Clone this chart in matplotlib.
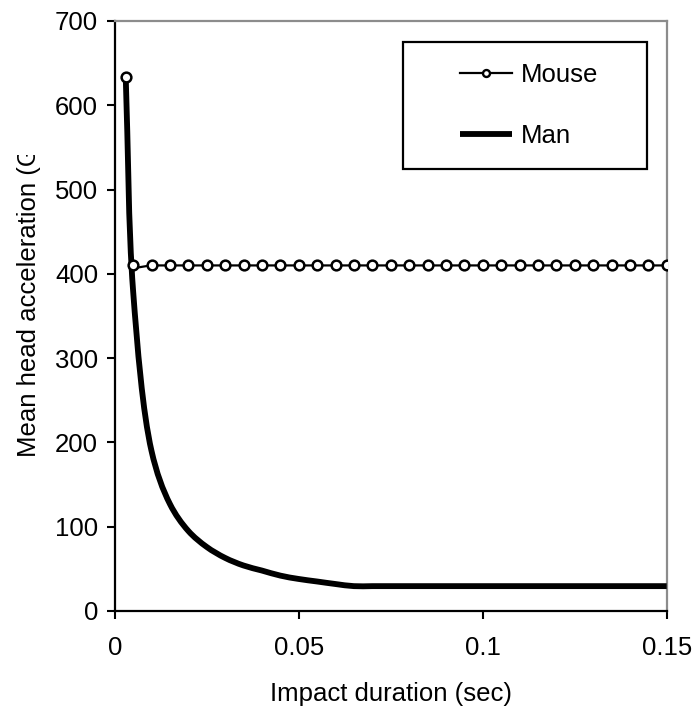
import matplotlib
matplotlib.use("Agg")
import numpy as np
import matplotlib.pyplot as plt
from matplotlib.transforms import Bbox, TransformedBbox
from matplotlib.patches import Rectangle, PathPatch
from matplotlib.path import Path
from matplotlib.lines import Line2D

plt.rcParams['font.family'] = ['Liberation Sans', 'DejaVu Sans']

# Data
mouse_t = [0.003, 0.005, 0.01, 0.015, 0.02, 0.025, 0.03, 0.035, 0.04, 0.045, 0.05,
           0.055, 0.06, 0.065, 0.07, 0.075, 0.08, 0.085, 0.09, 0.095, 0.1,
           0.105, 0.11, 0.115, 0.12, 0.125, 0.13, 0.135, 0.14, 0.145, 0.15]
mouse_acc = [633, 410, 410, 410, 410, 410, 410, 410, 410, 410, 410,
             410, 410, 410, 410, 410, 410, 410, 410, 410, 410,
             410, 410, 410, 410, 410, 410, 410, 410, 410, 410]

man_t = [0.003, 0.005, 0.01, 0.015, 0.02, 0.025, 0.03, 0.035, 0.04, 0.045, 0.05,
         0.055, 0.06, 0.065, 0.07, 0.075, 0.08, 0.085, 0.09, 0.095, 0.1,
         0.105, 0.11, 0.115, 0.12, 0.125, 0.13, 0.135, 0.14, 0.145, 0.15]
man_acc = [633, 380, 190, 127, 95, 76, 63, 54, 48, 42, 38,
           35, 32, 29.5, 29.5, 29.5, 29.5, 29.5, 29.5, 29.5, 29.5,
           29.5, 29.5, 29.5, 29.5, 29.5, 29.5, 29.5, 29.5, 29.5, 29.5]

x_ticks = [0, 0.05, 0.1, 0.15]
x_ticklabels = ["0", "0.05", "0.1", "0.15"]
y_ticks = [0, 100, 200, 300, 400, 500, 600, 700]


def smooth_centripetal(ax, xs, ys, alpha=0.5):
    """Smoothed line through the points: centripetal Catmull-Rom as cubic Beziers,
    computed in screen space."""
    pts = ax.transData.transform(np.column_stack([xs, ys]))
    n = len(pts)
    verts = [pts[0]]
    codes = [Path.MOVETO]
    for i in range(n - 1):
        p1, p2 = pts[i], pts[i + 1]
        d1 = max(np.hypot(*(p2 - p1)) ** alpha, 1e-9)
        if i > 0:
            p0 = pts[i - 1]
            d0 = max(np.hypot(*(p1 - p0)) ** alpha, 1e-9)
            m1 = ((p1 - p0) / d0 - (p2 - p0) / (d0 + d1) + (p2 - p1) / d1) * d1
        else:
            m1 = p2 - p1
        if i + 2 < n:
            p3 = pts[i + 2]
            d2 = max(np.hypot(*(p3 - p2)) ** alpha, 1e-9)
            m2 = ((p2 - p1) / d1 - (p3 - p1) / (d1 + d2) + (p3 - p2) / d2) * d1
        else:
            m2 = p2 - p1
        verts += [p1 + m1 / 3, p2 - m2 / 3, p2]
        codes += [Path.CURVE4] * 3
    verts = ax.transData.inverted().transform(np.array(verts))
    return Path(verts, codes)


def smooth_tension(ax, xs, ys, tension=0.3):
    """Smoothed line: tangent along neighbour chord, handle length from segment length."""
    pts = ax.transData.transform(np.column_stack([xs, ys]))
    n = len(pts)
    dirs = []
    for i in range(n):
        a = pts[i - 1] if i > 0 else pts[i]
        b = pts[i + 1] if i < n - 1 else pts[i]
        d = b - a
        nd = np.hypot(*d)
        dirs.append(d / nd if nd > 0 else d)
    verts = [pts[0]]
    codes = [Path.MOVETO]
    for i in range(n - 1):
        L = np.hypot(*(pts[i + 1] - pts[i]))
        verts += [pts[i] + dirs[i] * L * tension,
                  pts[i + 1] - dirs[i + 1] * L * tension, pts[i + 1]]
        codes += [Path.CURVE4] * 3
    verts = ax.transData.inverted().transform(np.array(verts))
    return Path(verts, codes)


W, H = 696, 709
fig = plt.figure(figsize=(W / 100, H / 100), dpi=100)
ax = fig.add_axes([114.7 / W, 1 - 611 / H, (666.7 - 114.7) / W, (611 - 21) / H])
ax.set_xlim(0, 0.15)
ax.set_ylim(0, 700)

ax.add_patch(PathPatch(smooth_tension(ax, mouse_t, mouse_acc, 0.25), fill=False,
                       edgecolor="black", lw=1.6, zorder=2))
ax.add_patch(PathPatch(smooth_centripetal(ax, man_t, man_acc), fill=False,
                       edgecolor="black", lw=4.2, capstyle="butt",
                       joinstyle="round", zorder=3))
ax.plot(mouse_t, mouse_acc, linestyle="none", marker="o", ms=7,
        mfc="white", mec="black", mew=1.8, zorder=4)

ax.set_xticks(x_ticks)
ax.set_xticklabels(x_ticklabels)
ax.set_yticks(y_ticks)

fs = 18.5
ax.tick_params(axis="both", direction="out", length=6, width=1.5, labelsize=fs,
               colors="black")
ax.tick_params(axis="x", pad=12)
ax.tick_params(axis="y", pad=6)
for s in ["left", "bottom"]:
    ax.spines[s].set_color("black")
    ax.spines[s].set_linewidth(1.6)
for s in ["top", "right"]:
    ax.spines[s].set_color("#8c8c8c")
    ax.spines[s].set_linewidth(1.6)

ax.set_xlabel("Impact duration (sec)", fontsize=fs, labelpad=16)

# y label, clipped at the top as in the reference
yl = fig.text(29 / W, 1 - 457 / H, "Mean head acceleration (G)", rotation=90,
              rotation_mode="anchor", fontsize=fs, ha="left", va="center")
yl.set_clip_box(TransformedBbox(Bbox([[0, 0], [1, 1 - 155 / H]]), fig.transFigure))
yl.set_clip_on(True)

# Legend frame
x0, x1, y0, y1 = 403, 647, 42.3, 169
fig.patches.append(Rectangle((x0 / W, 1 - y1 / H), (x1 - x0) / W, (y1 - y0) / H,
                             transform=fig.transFigure, facecolor="white",
                             edgecolor="black", lw=1.6, zorder=5))
h_mouse = Line2D([], [], color="black", lw=1.6, marker="o", ms=5,
                 mfc="white", mec="black", mew=1.7)
h_man = Line2D([], [], color="black", lw=4.2, solid_capstyle="butt")
leg = fig.legend([h_mouse, h_man], ["Mouse", "Man"], loc="center",
                 bbox_to_anchor=(529 / W, 1 - 105.5 / H), frameon=False,
                 fontsize=fs, handlelength=2.05, handletextpad=0.33,
                 labelspacing=1.45, borderpad=0)
leg.set_zorder(6)

fig.savefig("out.png", dpi=100)
